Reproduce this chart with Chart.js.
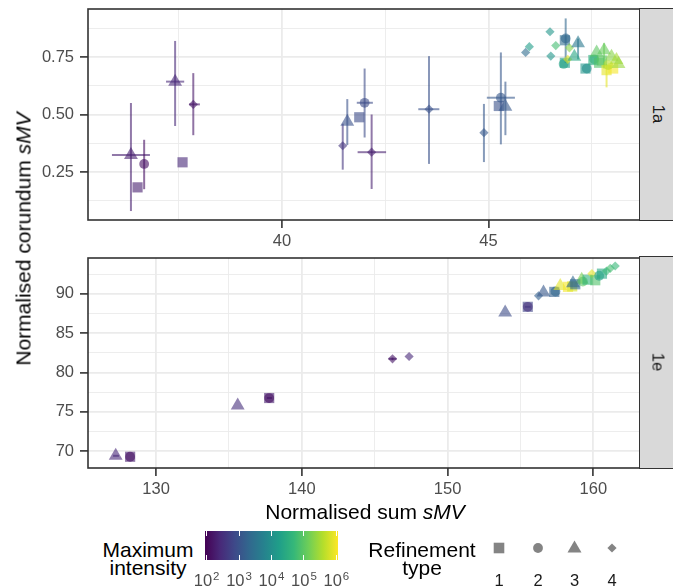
<!DOCTYPE html>
<html>
<head>
<meta charset="utf-8">
<script src="https://cdn.jsdelivr.net/npm/chart.js@4.4.1/dist/chart.umd.min.js"></script>
<style>
  html, body { margin: 0; padding: 0; background: #fff; }
  #wrap { position: relative; width: 673px; height: 586px; overflow: hidden;
          font-family: "Liberation Sans", Arial, sans-serif; }
  canvas { position: absolute; left: 0; }
  #cTop { top: 0; }
  #cBot { top: 250px; }
  .strip { position: absolute; left: 639px; width: 60px; background: #d9d9d9;
           border: 1.6px solid #333; box-sizing: border-box; }
  .strip span { position: absolute; left: 18px; top: 50%; font-size: 16.5px; color: #1a1a1a;
                transform: translate(-50%, -50%) rotate(90deg); white-space: nowrap; }
  .title { position: absolute; font-size: 21px; color: #000; white-space: nowrap; line-height: 1; }
  .lab { position: absolute; font-size: 16.5px; color: #4d4d4d; line-height: 1; white-space: nowrap;
         transform: translateX(-50%); }
  .lab sup { font-size: 11.5px; vertical-align: 0; position: relative; top: -6px; margin-left: 1px; }
  .ltitle { position: absolute; font-size: 21px; line-height: 18px; text-align: center; color: #000;
            transform: translateX(-50%); white-space: nowrap; }
  #cbar { position: absolute; left: 205px; top: 531px; width: 133px; height: 28.5px; }
  .ctick { position: absolute; width: 1px; height: 5px; background: #fff; }
</style>
</head>
<body>
<div id="wrap">
  <canvas id="cTop" width="673" height="250"></canvas>
  <canvas id="cBot" width="673" height="260"></canvas>

  <div class="strip" style="top:8.2px;height:212.6px;"><span>1a</span></div>
  <div class="strip" style="top:256.2px;height:212.6px;"><span>1e</span></div>

  <div class="title" style="left:22.5px;top:238.5px;transform:translate(-50%,-50%) rotate(-90deg);">Normalised corundum <i>sMV</i></div>
  <div class="title" style="left:365px;top:500.5px;transform:translateX(-50%);">Normalised sum <i>sMV</i></div>

  <div class="ltitle" style="left:148px;top:541px;">Maximum<br>intensity</div>
  <div id="cbar"></div>
  <div id="cbarLabels"></div>

  <div class="ltitle" style="left:422px;top:541px;">Refinement<br>type</div>
  <svg id="shapeKeys" width="673" height="586" style="position:absolute;left:0;top:0;pointer-events:none;"></svg>
  <div id="shapeLabels"></div>
</div>

<script>
// ---------- Panel 1a: normalised sum sMV vs normalised corundum sMV ----------
const topSum = [36.34, 36.50, 36.66, 37.41, 37.59, 37.85, 41.47, 41.58, 41.87, 42.00,
                42.17, 43.56, 44.89, 45.25, 45.30, 45.41, 45.90, 45.99, 46.49, 46.51,
                46.85, 46.87, 46.63, 46.96, 47.17, 46.85, 46.82, 46.92, 47.08, 47.35,
                47.38, 47.54, 47.56, 47.68, 47.75, 47.80, 47.98, 48.10, 47.86, 48.02,
                47.90, 48.15, 47.62];
const topCor = [0.324, 0.183, 0.285, 0.643, 0.292, 0.544, 0.364, 0.469, 0.488, 0.551,
                0.336, 0.523, 0.421, 0.537, 0.573, 0.534, 0.770, 0.795, 0.860, 0.754,
                0.823, 0.831, 0.800, 0.790, 0.810, 0.725, 0.720, 0.740, 0.751, 0.700,
                0.700, 0.737, 0.740, 0.725, 0.735, 0.780, 0.751, 0.737, 0.693, 0.700,
                0.715, 0.720, 0.770];
const topType = [3, 1, 2, 3, 1, 4, 4, 3, 1, 2,
                 4, 4, 4, 1, 2, 3, 4, 4, 4, 4,
                 1, 2, 4, 4, 3, 1, 2, 4, 3, 1,
                 2, 1, 2, 1, 1, 3, 3, 3, 1, 1,
                 2, 3, 3];
const topLogIntensity = [2.3, 2.3, 2.1, 2.4, 2.4, 2.2, 2.6, 3.0, 2.9, 2.9,
                         2.3, 3.0, 3.1, 3.0, 3.1, 3.1, 3.4, 4.2, 4.1, 4.1,
                         3.4, 3.3, 4.8, 5.3, 3.6, 4.2, 4.3, 5.9, 4.4, 4.1,
                         4.0, 4.5, 4.6, 4.9, 5.0, 5.1, 5.3, 5.5, 5.9, 6.0,
                         5.6, 5.4, 5.0];
// uncertainty ranges (index -> [low, high])
const topSumErr = { 0: [35.88, 36.80], 3: [37.19, 37.63], 5: [37.75, 38.01], 9: [41.81, 42.20],
                    10: [41.83, 42.52], 11: [43.30, 43.81], 14: [44.96, 45.64] };
const topCorErr = { 0: [0.08, 0.55], 2: [0.175, 0.39], 3: [0.45, 0.82], 5: [0.41, 0.68],
                    6: [0.26, 0.46], 7: [0.367, 0.567], 9: [0.40, 0.70], 10: [0.176, 0.50],
                    11: [0.285, 0.754], 12: [0.293, 0.546], 14: [0.37, 0.77], 15: [0.41, 0.643],
                    21: [0.724, 0.918], 24: [0.74, 0.83], 35: [0.70, 0.81], 38: [0.618, 0.72] };

// ---------- Panel 1e ----------
const botSum = [127.23, 128.22, 128.22, 135.60, 137.76, 137.76, 146.22, 147.36, 153.95, 155.50,
                155.50, 156.24, 156.58, 157.32, 157.40, 159.20, 157.73, 158.26, 158.55, 158.76,
                158.60, 159.28, 159.60, 159.90, 160.13, 160.40, 160.59, 160.90, 161.16, 161.50];
const botCor = [69.40, 69.28, 69.28, 75.80, 76.75, 76.75, 81.73, 82.03, 87.63, 88.35,
                88.35, 89.75, 90.17, 90.25, 90.30, 91.80, 91.00, 90.89, 90.95, 91.22,
                91.35, 91.56, 91.80, 92.57, 91.73, 92.30, 92.57, 92.90, 93.25, 93.54];
const botType = [3, 1, 2, 3, 1, 2, 4, 4, 3, 1,
                 2, 4, 3, 1, 2, 3, 3, 1, 1, 1,
                 3, 2, 1, 4, 1, 2, 1, 4, 4, 4];
const botLogIntensity = [2.4, 2.3, 2.1, 2.5, 2.3, 2.1, 2.2, 2.4, 2.9, 2.8,
                         2.5, 3.2, 3.1, 3.2, 3.3, 5.2, 5.9, 6.0, 5.8, 3.4,
                         3.3, 5.0, 4.6, 5.9, 4.9, 4.2, 4.4, 4.7, 4.8, 4.7];
const botSumErr = { 0: [127.05, 127.45], 5: [137.60, 137.95], 6: [145.95, 146.50], 9: [155.30, 155.70] };
const botCorErr = { 6: [81.55, 81.90] };

// ---------- axis ticks ----------
const topXTicks = [37.5, 40, 42.5, 45, 47.5];
const topXLabels = [40, 45];
const topYTicks = [0.125, 0.25, 0.375, 0.5, 0.625, 0.75, 0.875];
const topYLabels = [0.25, 0.5, 0.75];
const botXTicks = [130, 135, 140, 145, 150, 155, 160];
const botXLabels = [130, 140, 150, 160];
const botYTicks = [70, 72.5, 75, 77.5, 80, 82.5, 85, 87.5, 90, 92.5];
const botYLabels = [70, 75, 80, 85, 90];

// colour bar limits (log10 of maximum intensity) and its labelled breaks
const intensityLogRange = [1.95, 6.05];
const intensityBreaks = [2, 3, 4, 5, 6];
const refinementTypes = [1, 2, 3, 4];

// ---------- styling ----------
const FONT = '"Liberation Sans", Arial, sans-serif';
const VIRIDIS = ['#440154', '#482878', '#3e4989', '#31688e', '#26828e',
                 '#1f9e89', '#35b779', '#6ece58', '#b5de2b', '#fde725'];
const POINT_ALPHA = 0.6;
const SHAPE = { 1: 'rect', 2: 'circle', 3: 'triangle', 4: 'rectRot' };
const RADIUS = { 1: 7.2, 2: 4.9, 3: 8.0, 4: 4.6 };

function hexToRgb(h) {
  return [parseInt(h.slice(1, 3), 16), parseInt(h.slice(3, 5), 16), parseInt(h.slice(5, 7), 16)];
}
function viridis(t, alpha) {
  t = Math.max(0, Math.min(1, t));
  const pos = t * (VIRIDIS.length - 1);
  const i = Math.min(VIRIDIS.length - 2, Math.floor(pos));
  const f = pos - i;
  const a = hexToRgb(VIRIDIS[i]), b = hexToRgb(VIRIDIS[i + 1]);
  const c = a.map((v, k) => Math.round(v + (b[k] - v) * f));
  return `rgba(${c[0]},${c[1]},${c[2]},${alpha})`;
}
function intensityColour(logI, alpha) {
  return viridis((logI - intensityLogRange[0]) / (intensityLogRange[1] - intensityLogRange[0]), alpha);
}

function buildPoints(xs, ys, types, logs, xErr, yErr) {
  return xs.map((x, i) => ({
    x: x, y: ys[i], type: types[i],
    col: intensityColour(logs[i], POINT_ALPHA),
    xe: xErr[i] || null, ye: yErr[i] || null
  }));
}

const near = (list, v) => list.some(t => Math.abs(t - v) < 1e-9);

function makeScale(tickVals, labelVals, lo, hi, isY, size, fmt) {
  return {
    type: 'linear', min: lo, max: hi,
    afterBuildTicks: ax => { ax.ticks = tickVals.map(v => ({ value: v })); },
    afterFit: ax => {
      if (isY) ax.width = size; else ax.height = size;
      // keep the plotting area fixed: no extra room for edge labels
      ax.paddingTop = 0; ax.paddingBottom = 0; ax.paddingLeft = 0; ax.paddingRight = 0;
    },
    ticks: {
      autoSkip: false, maxRotation: 0, minRotation: 0,
      padding: isY ? 6 : 4, color: '#4d4d4d',
      font: { family: FONT, size: 16.5 },
      callback: v => near(labelVals, v) ? fmt(v) : ''
    },
    grid: {
      color: '#ebebeb',
      lineWidth: c => (c.tick && near(labelVals, c.tick.value)) ? 1.8 : 0.9,
      drawTicks: true, tickLength: 8,
      tickColor: c => (c.tick && near(labelVals, c.tick.value)) ? '#333333' : 'rgba(0,0,0,0)',
      tickWidth: 1.6
    },
    border: { display: false }
  };
}

// error bars sit beneath the markers
const errorBars = {
  id: 'errorBars',
  beforeDatasetsDraw(chart) {
    const { ctx, chartArea: a, scales: { x, y } } = chart;
    ctx.save();
    ctx.beginPath(); ctx.rect(a.left, a.top, a.width, a.height); ctx.clip();
    ctx.lineWidth = 2; ctx.lineCap = 'butt';
    chart.data.datasets[0].data.forEach(p => {
      ctx.strokeStyle = p.col;
      const px = x.getPixelForValue(p.x), py = y.getPixelForValue(p.y);
      if (p.xe) {
        ctx.beginPath();
        ctx.moveTo(x.getPixelForValue(p.xe[0]), py);
        ctx.lineTo(x.getPixelForValue(p.xe[1]), py);
        ctx.stroke();
      }
      if (p.ye) {
        ctx.beginPath();
        ctx.moveTo(px, y.getPixelForValue(p.ye[0]));
        ctx.lineTo(px, y.getPixelForValue(p.ye[1]));
        ctx.stroke();
      }
    });
    ctx.restore();
  }
};

// dark frame around each panel
const panelFrame = {
  id: 'panelFrame',
  afterDraw(chart) {
    const { ctx, chartArea: a } = chart;
    ctx.save();
    ctx.strokeStyle = '#333333'; ctx.lineWidth = 1.6;
    ctx.strokeRect(a.left, a.top, a.right - a.left, a.bottom - a.top);
    ctx.restore();
  }
};

function panel(canvasId, points, xScale, yScale, padTop) {
  return new Chart(document.getElementById(canvasId), {
    type: 'scatter',
    data: {
      datasets: [{
        data: points,
        pointStyle: c => SHAPE[c.raw.type],
        pointRadius: c => RADIUS[c.raw.type],
        pointHoverRadius: c => RADIUS[c.raw.type],
        backgroundColor: c => c.raw.col,
        borderWidth: 0,
        pointBorderWidth: 0
      }]
    },
    options: {
      responsive: false, animation: false, devicePixelRatio: 1,
      layout: { padding: { top: padTop, right: 33, left: 0, bottom: 0 } },
      plugins: { legend: { display: false }, tooltip: { enabled: false } },
      events: [],
      scales: { x: xScale, y: yScale }
    },
    plugins: [errorBars, panelFrame]
  });
}

panel('cTop',
  buildPoints(topSum, topCor, topType, topLogIntensity, topSumErr, topCorErr),
  makeScale(topXTicks, topXLabels, 35.30, 48.67, false, 30, v => String(v)),
  makeScale(topYTicks, topYLabels, 0.041, 0.959, true, 88, v => v.toFixed(2)),
  9);

panel('cBot',
  buildPoints(botSum, botCor, botType, botLogIntensity, botSumErr, botCorErr),
  makeScale(botXTicks, botXLabels, 125.33, 163.2, false, 42, v => String(v)),
  makeScale(botYTicks, botYLabels, 67.85, 94.56, true, 88, v => String(v)),
  7);

// ---------- legends ----------
const cbar = document.getElementById('cbar');
const cbarLeft = 205, cbarWidth = 133;
cbar.style.background = 'linear-gradient(to right,' +
  VIRIDIS.map((c, i) => `${c} ${(i / (VIRIDIS.length - 1) * 100).toFixed(1)}%`).join(',') + ')';
const cbarLabels = document.getElementById('cbarLabels');
intensityBreaks.forEach(k => {
  const xPix = (k - intensityLogRange[0]) / (intensityLogRange[1] - intensityLogRange[0]) * cbarWidth;
  [0, 23.5].forEach(top => {
    const t = document.createElement('div');
    t.className = 'ctick';
    t.style.left = (xPix - 0.5) + 'px';
    t.style.top = top + 'px';
    cbar.appendChild(t);
  });
  const l = document.createElement('div');
  l.className = 'lab';
  l.style.left = (cbarLeft + xPix) + 'px';
  l.style.top = '572px';
  l.innerHTML = `10<sup>${k}</sup>`;
  cbarLabels.appendChild(l);
});

const keyX = [499, 538, 574.5, 612], keyY = 548, keyFill = '#848484';
const svg = document.getElementById('shapeKeys');
const shapeLabels = document.getElementById('shapeLabels');
refinementTypes.forEach((t, i) => {
  const cx = keyX[i];
  let el;
  if (t === 1) {
    el = `<rect x="${cx - 5.3}" y="${keyY - 5.3}" width="10.6" height="10.6" fill="${keyFill}"/>`;
  } else if (t === 2) {
    el = `<circle cx="${cx}" cy="${keyY}" r="4.9" fill="${keyFill}"/>`;
  } else if (t === 3) {
    el = `<polygon points="${cx},${keyY - 7.5} ${cx + 7},${keyY + 4.5} ${cx - 7},${keyY + 4.5}" fill="${keyFill}"/>`;
  } else {
    el = `<polygon points="${cx},${keyY - 4.6} ${cx + 4.6},${keyY} ${cx},${keyY + 4.6} ${cx - 4.6},${keyY}" fill="${keyFill}"/>`;
  }
  svg.insertAdjacentHTML('beforeend', el);
  const l = document.createElement('div');
  l.className = 'lab';
  l.style.left = cx + 'px';
  l.style.top = '572px';
  l.style.color = '#1a1a1a';
  l.textContent = String(t);
  shapeLabels.appendChild(l);
});
</script>
</body>
</html>
